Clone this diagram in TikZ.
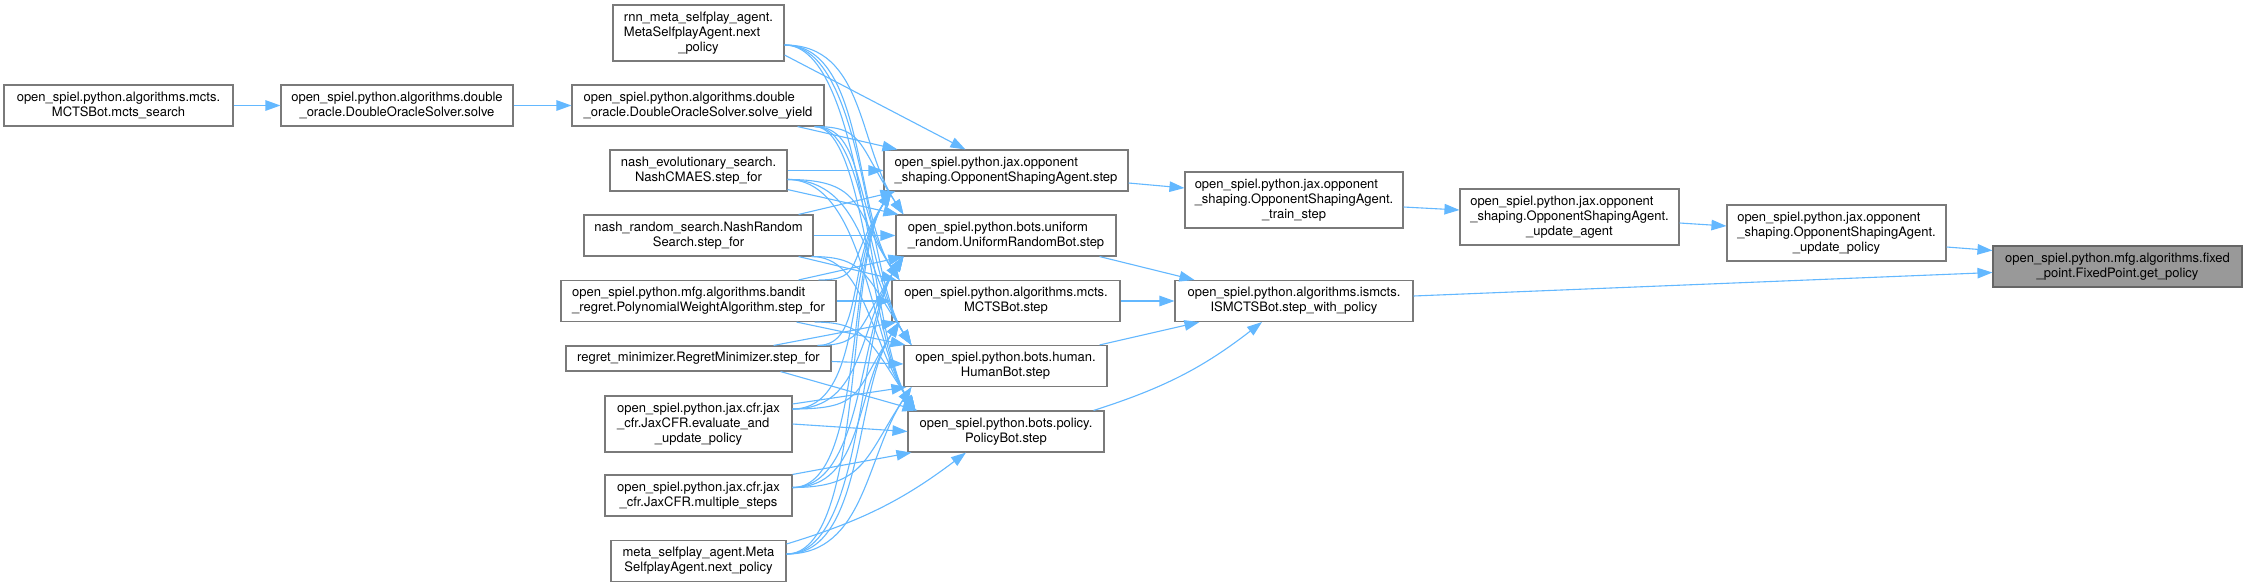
\documentclass[tikz,border=0pt]{standalone}
\usepackage{fontspec}
\setmainfont{TeX Gyre Heros}
\usetikzlibrary{arrows.meta,calc}
\definecolor{edgec}{HTML}{63B8FF}
\definecolor{bordc}{HTML}{7A7A7A}
\definecolor{rootc}{HTML}{999999}
\newcommand\lb[2]{\begin{tabular}{@{}l@{}}#1\\\multicolumn{1}{@{}c@{}}{#2}\end{tabular}}
\newcommand\edn[2]{\draw[edge] (#1) .. controls (#1 -| band) and ($(#2.north west)+(-38,70)$) .. ($(#2.north west)+(8,0)$);}
\newcommand\eup[2]{\draw[edge] (#1) .. controls (#1 -| band) and ($(#2.south west)+(-38,-70)$) .. ($(#2.south west)+(8,0)$);}
\begin{document}
\begin{tikzpicture}[x=1pt,y=1pt,
  font=\fontsize{13}{15}\selectfont,
  box/.style={draw=bordc,line width=1.1pt,fill=white,inner sep=2pt},
  edge/.style={draw=edgec,line width=1.1pt,-{Triangle[length=15pt,width=10.5pt]}}]
\fill[white] (0,0) rectangle (2247,-587);
\useasboundingbox (0,0) rectangle (2247,-587);
\coordinate (band) at (865,0);
% column 0/1
\node[box,minimum width=229pt,minimum height=41pt] (mcts) at (118.5,-105.5) {\lb{open\_spiel.python.algorithms.mcts.}{MCTSBot.mcts\_search}};
\node[box,minimum width=232pt,minimum height=41pt] (solve) at (397,-105.5) {\lb{open\_spiel.python.algorithms.double}{\_oracle.DoubleOracleSolver.solve}};
% left column
\node[box,minimum width=171pt,minimum height=56pt] (rnn) at (698.5,-33) {\lb{rnn\_meta\_selfplay\_agent.\\MetaSelfplayAgent.next}{\_policy}};
\node[box,minimum width=252pt,minimum height=41pt] (yield) at (698,-105.5) {\lb{open\_spiel.python.algorithms.double}{\_oracle.DoubleOracleSolver.solve\_yield}};
\node[box,minimum width=177pt,minimum height=41pt] (cmaes) at (698.5,-170.5) {\lb{nash\_evolutionary\_search.}{NashCMAES.step\_for}};
\node[box,minimum width=229pt,minimum height=41pt] (nrand) at (698.5,-235.5) {\lb{nash\_random\_search.NashRandom}{Search.step\_for}};
\node[box,minimum width=275pt,minimum height=41pt] (bandit) at (698.5,-301) {\lb{open\_spiel.python.mfg.algorithms.bandit}{\_regret.PolynomialWeightAlgorithm.step\_for}};
\node[box,minimum width=265pt,minimum height=25pt] (regret) at (698.5,-358.5) {regret\_minimizer.RegretMinimizer.step\_for};
\node[box,minimum width=187pt,minimum height=56pt] (evalu) at (698.5,-424) {\lb{open\_spiel.python.jax.cfr.jax\\\_cfr.JaxCFR.evaluate\_and}{\_update\_policy}};
\node[box,minimum width=187pt,minimum height=41pt] (mult) at (698.5,-495.5) {\lb{open\_spiel.python.jax.cfr.jax}{\_cfr.JaxCFR.multiple\_steps}};
\node[box,minimum width=175pt,minimum height=41pt] (meta) at (698.5,-561) {\lb{meta\_selfplay\_agent.Meta}{SelfplayAgent.next\_policy}};
% middle column
\node[box,minimum width=244pt,minimum height=41pt] (osa) at (1006,-170.5) {\lb{open\_spiel.python.jax.opponent}{\_shaping.OpponentShapingAgent.step}};
\node[box,minimum width=220pt,minimum height=41pt] (unif) at (1006,-235.5) {\lb{open\_spiel.python.bots.uniform}{\_random.UniformRandomBot.step}};
\node[box,minimum width=228pt,minimum height=41pt] (mctsbot) at (1006,-301) {\lb{open\_spiel.python.algorithms.mcts.}{MCTSBot.step}};
\node[box,minimum width=203pt,minimum height=41pt] (human) at (1005.5,-366) {\lb{open\_spiel.python.bots.human.}{HumanBot.step}};
\node[box,minimum width=196pt,minimum height=41pt] (policy) at (1006,-431.5) {\lb{open\_spiel.python.bots.policy.}{PolicyBot.step}};
% right part
\node[box,minimum width=218pt,minimum height=56pt] (train) at (1294,-200) {\lb{open\_spiel.python.jax.opponent\\\_shaping.OpponentShapingAgent.}{\_train\_step}};
\node[box,minimum width=238pt,minimum height=41pt] (ismcts) at (1294,-301) {\lb{open\_spiel.python.algorithms.ismcts.}{ISMCTSBot.step\_with\_policy}};
\node[box,minimum width=219pt,minimum height=56pt] (upagent) at (1569.5,-217) {\lb{open\_spiel.python.jax.opponent\\\_shaping.OpponentShapingAgent.}{\_update\_agent}};
\node[box,minimum width=219pt,minimum height=56pt] (uppolicy) at (1836.5,-233) {\lb{open\_spiel.python.jax.opponent\\\_shaping.OpponentShapingAgent.}{\_update\_policy}};
\node[box,fill=rootc,draw=black!60,minimum width=249pt,minimum height=41pt] (getpol) at (2117.5,-266.5) {\lb{open\_spiel.python.mfg.algorithms.fixed}{\_point.FixedPoint.get\_policy}};
% start points
\coordinate (s-rnn) at ($(rnn.east)+(0,-12)$);
\coordinate (s-yield) at ($(yield.south east)+(-10,0)$);
\coordinate (s-cmaes) at ($(cmaes.east)+(0,-9)$);
\coordinate (s-nrand) at ($(nrand.south east)+(-2,0)$);
\coordinate (s-bandu) at ($(bandit.north east)+(-18,0)$);
\coordinate (s-bandd) at ($(bandit.south east)+(-22,0)$);
\coordinate (s-regret) at ($(regret.north east)+(-14,0)$);
\coordinate (s-evalu) at ($(evalu.east)+(0,15)$);
\coordinate (s-mult) at ($(mult.east)+(0,8)$);
\coordinate (s-meta) at ($(meta.east)+(0,7)$);
% chain
\draw[edge] (mcts.east) -- (solve.west);
\draw[edge] (solve.east) -- (yield.west);
% curved edges down
\edn{s-rnn}{unif}\edn{s-rnn}{mctsbot}\edn{s-rnn}{human}\edn{s-rnn}{policy}
\edn{s-yield}{unif}\edn{s-yield}{mctsbot}\edn{s-yield}{human}\edn{s-yield}{policy}
\edn{s-cmaes}{mctsbot}\edn{s-cmaes}{human}\edn{s-cmaes}{policy}
\edn{s-nrand}{human}\edn{s-nrand}{policy}
\edn{s-bandd}{policy}
% curved edges up
\eup{s-bandu}{osa}
\eup{s-regret}{osa}\eup{s-regret}{unif}
\eup{s-evalu}{osa}\eup{s-evalu}{unif}\eup{s-evalu}{mctsbot}
\eup{s-mult}{osa}\eup{s-mult}{unif}\eup{s-mult}{mctsbot}\eup{s-mult}{human}
\eup{s-meta}{osa}\eup{s-meta}{unif}\eup{s-meta}{mctsbot}\eup{s-meta}{human}
% straight edges
\draw[edge] ($(rnn.east)+(0,-22)$) -- ($(osa.north west)+(82,0)$);
\draw[edge] ($(yield.south east)+(-27,0)$) -- ($(osa.north west)+(14,0)$);
\draw[edge] (cmaes.east) -- (osa.west);
\draw[edge] ($(cmaes.south east)+(0,2)$) -- ($(unif.north west)+(3,0)$);
\draw[edge] ($(nrand.north east)+(-15,0)$) -- ($(osa.south west)+(12,0)$);
\draw[edge] (nrand.east) -- (unif.west);
\draw[edge] ($(nrand.south east)+(-15,0)$) -- ($(mctsbot.north west)+(5,0)$);
\draw[edge] ($(bandit.north east)+(-38,0)$) -- ($(unif.south west)+(8,0)$);
\draw[edge] (bandit.east) -- (mctsbot.west);
\draw[edge] ($(bandit.south east)+(-40,0)$) -- ($(human.north west)+(2,0)$);
\draw[edge] ($(regret.north east)+(-58,0)$) -- ($(mctsbot.south west)+(5,0)$);
\draw[edge] ($(regret.east)+(0,-3)$) -- ($(human.west)+(0,2)$);
\draw[edge] ($(regret.south east)+(-51,0)$) -- ($(policy.north west)+(10,0)$);
\draw[edge] ($(evalu.east)+(0,20)$) -- ($(human.south west)+(3,0)$);
\draw[edge] (evalu.east) -- (policy.west);
\draw[edge] (mult.north east) -- ($(policy.south west)+(4,0)$);
\draw[edge] ($(meta.east)+(0,17)$) to[bend right=10] ($(policy.south)+(-40,0)$);
% to ismcts
\draw[edge] ($(unif.south east)+(-17,0)$) -- ($(ismcts.north west)+(20,0)$);
\draw[edge] (mctsbot.east) -- (ismcts.west);
\draw[edge] ($(human.north east)+(-8,0)$) -- ($(ismcts.south west)+(25,0)$);
\draw[edge] ($(policy.north east)+(-11,0)$) to[bend right=10] ($(ismcts.south)+(-32,0)$);
% right chain
\draw[edge] ($(osa.east)+(0,-12.5)$) -- ($(train.west)+(0,12)$);
\draw[edge] ($(train.east)+(0,-7)$) -- ($(upagent.west)+(0,7)$);
\draw[edge] ($(upagent.east)+(0,-6)$) -- ($(uppolicy.west)+(0,7)$);
\draw[edge] ($(uppolicy.east)+(0,-14)$) -- ($(getpol.west)+(0,16)$);
\draw[edge] ($(ismcts.east)+(0,5)$) -- ($(getpol.west)+(0,-6)$);
\end{tikzpicture}
\end{document}
